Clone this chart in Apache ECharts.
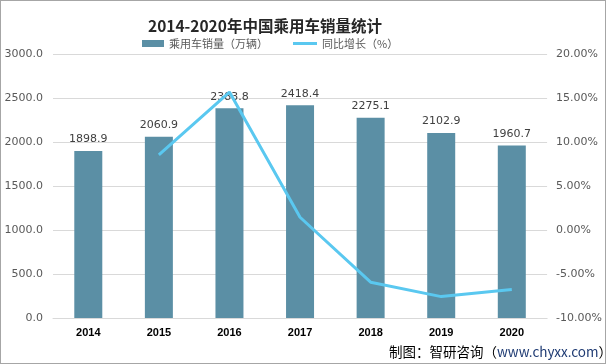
<!DOCTYPE html>
<html><head><meta charset="utf-8">
<script src="https://cdn.jsdelivr.net/npm/echarts@6/dist/echarts.min.js"></script>
<style>html,body{margin:0;padding:0;background:#fff;}#c{width:604px;height:362px;border:1px solid #a6a6a6;}</style>
</head><body><div id="c"></div>
<script>
const categories = ['2014','2015','2016','2017','2018','2019','2020'];
const sales = [1898.9, 2060.9, 2383.8, 2418.4, 2275.1, 2102.9, 1960.7];
const growth = [null, 8.53, 15.67, 1.45, -5.93, -7.57, -6.76];
const chart = echarts.init(document.getElementById('c'));
const font = '"Noto Sans CJK SC", "Noto Sans", sans-serif';
const legendText = {fontSize: 11, color: '#595959', fontFamily: font};
chart.setOption({
  animation: false,
  backgroundColor: '#fff',
  textStyle: {fontFamily: font},
  title: {text: '2014-2020年中国乘用车销量统计', left: 142, top: 12,
    textStyle: {fontSize: 15.5, fontWeight: 'bold', color: '#262626', fontFamily: font}},
  legend: [
    {top: 37, left: 141, padding: 0, itemWidth: 22, itemHeight: 7, textStyle: legendText,
      data: [{name: '乘用车销量（万辆）', icon: 'rect'}]},
    {top: 37, left: 292, padding: 0, itemWidth: 24, itemHeight: 3, textStyle: legendText,
      data: [{name: '同比增长（%）', icon: 'rect'}]}
  ],
  grid: {left: 52, right: 53, top: 53, bottom: 45},
  xAxis: {type: 'category', data: categories,
    axisLine: {lineStyle: {color: '#d9d9d9'}}, axisTick: {show: false},
    axisLabel: {color: '#000', fontWeight: 'bold', fontSize: 11, margin: 9, fontFamily: 'Liberation Sans, Arial'}},
  yAxis: [
    {type: 'value', min: 0, max: 3000, interval: 500,
      axisLabel: {color: '#595959', fontSize: 11, margin: 10, formatter: v => v.toFixed(1), fontFamily: 'DejaVu Sans'},
      splitLine: {lineStyle: {color: '#d9d9d9'}}, axisLine: {show: false}, axisTick: {show: false}},
    {type: 'value', min: -10, max: 20, interval: 5,
      axisLabel: {color: '#595959', fontSize: 11, margin: 9, formatter: v => v.toFixed(2) + '%', fontFamily: 'DejaVu Sans'},
      splitLine: {show: false}, axisLine: {show: false}, axisTick: {show: false}}
  ],
  series: [
    {name: '乘用车销量（万辆）', type: 'bar', data: sales, barWidth: 28,
      itemStyle: {color: '#5b8fa5'},
      label: {show: true, position: 'top', color: '#404040', fontSize: 11, distance: 6,
        formatter: p => p.value.toFixed(1), fontFamily: 'DejaVu Sans'}},
    {name: '同比增长（%）', type: 'line', yAxisIndex: 1, data: growth,
      symbol: 'none', lineStyle: {color: '#5ac8f0', width: 3}, itemStyle: {color: '#5ac8f0'}}
  ],
  graphic: [{type: 'text', right: -7, bottom: 4,
    style: {text: '{a|制图：智研咨询（}{b|www.chyxx.com}{a|）}',
      rich: {a: {fontSize: 13.5, fill: '#000', fontFamily: font}, b: {fontSize: 13.5, fill: '#1f3b73', fontFamily: font}}}}]
});
</script></body></html>
